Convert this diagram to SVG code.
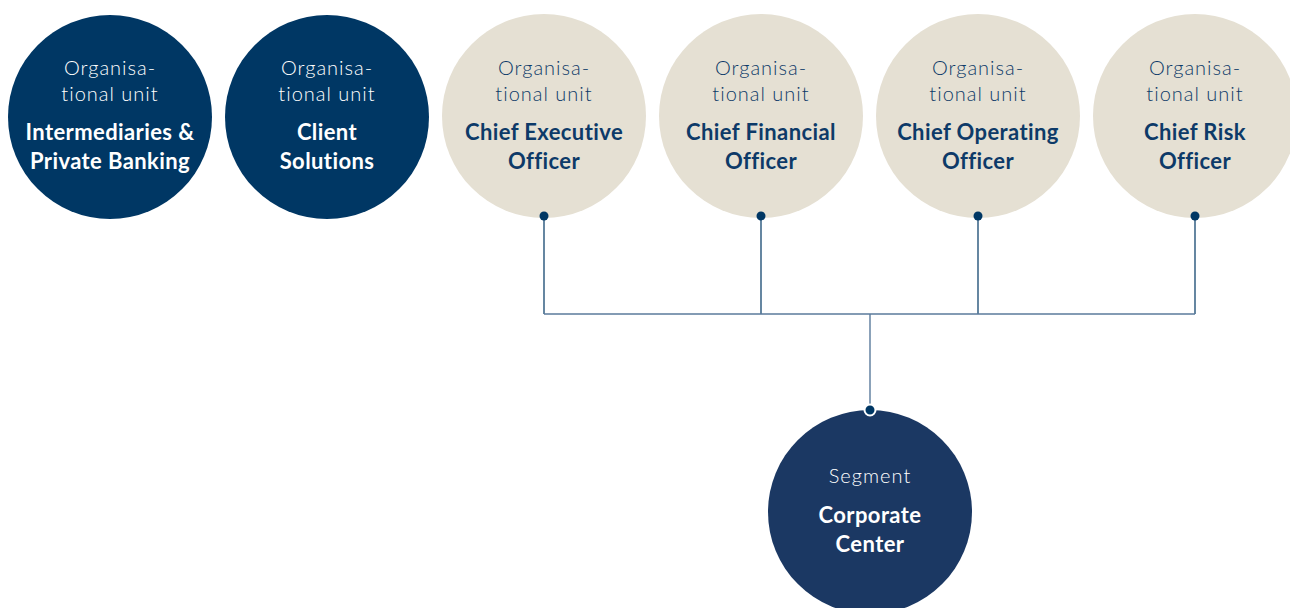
<svg xmlns="http://www.w3.org/2000/svg" width="1290" height="608" viewBox="0 0 1290 608">
<style>
.dark{fill:#003764}
.seg{fill:#1b3863}
.beige{fill:#e5e0d3}
.lt{font-family:Lato,"Open Sans",sans-serif;font-weight:300;font-size:20px;letter-spacing:1px;text-anchor:middle}
.bd{font-family:Lato,"Open Sans",sans-serif;font-weight:700;font-size:22px;letter-spacing:0.4px;text-anchor:middle}
.w{fill:#ffffff}
.b{fill:#0d3a68}
.v{stroke:#003764;stroke-width:1.2;fill:none}
.h{stroke:#5b7b9c;stroke-width:1.4;fill:none}
</style>
<g id="connectors">
<path class="v" d="M544 216V314M761 216V314M978 216V314M1195 216V314"/>
<path class="h" d="M544 314H1195M870 314V410"/>
</g>
<g id="n-ipb">
<ellipse class="dark" cx="110" cy="117" rx="102" ry="102"/>
<text class="lt w" x="110" y="75">Organisa-</text>
<text class="lt w" x="110" y="101">tional unit</text>
<text class="bd w" x="110" y="140">Intermediaries &amp;</text>
<text class="bd w" x="110" y="169">Private Banking</text>
</g>
<g id="n-cs">
<ellipse class="dark" cx="327" cy="117" rx="102" ry="102"/>
<text class="lt w" x="327" y="75">Organisa-</text>
<text class="lt w" x="327" y="101">tional unit</text>
<text class="bd w" x="327" y="140">Client</text>
<text class="bd w" x="327" y="169">Solutions</text>
</g>
<g id="n-ceo">
<ellipse class="beige" cx="544" cy="116" rx="102" ry="102"/>
<text class="lt b" x="544" y="75">Organisa-</text>
<text class="lt b" x="544" y="101">tional unit</text>
<text class="bd b" x="544" y="140">Chief Executive</text>
<text class="bd b" x="544" y="169">Officer</text>
<circle class="dark" cx="544" cy="216" r="4.5"/>
</g>
<g id="n-cfo">
<ellipse class="beige" cx="761" cy="116" rx="102" ry="102"/>
<text class="lt b" x="761" y="75">Organisa-</text>
<text class="lt b" x="761" y="101">tional unit</text>
<text class="bd b" x="761" y="140">Chief Financial</text>
<text class="bd b" x="761" y="169">Officer</text>
<circle class="dark" cx="761" cy="216" r="4.5"/>
</g>
<g id="n-coo">
<ellipse class="beige" cx="978" cy="116" rx="102" ry="102"/>
<text class="lt b" x="978" y="75">Organisa-</text>
<text class="lt b" x="978" y="101">tional unit</text>
<text class="bd b" x="978" y="140">Chief Operating</text>
<text class="bd b" x="978" y="169">Officer</text>
<circle class="dark" cx="978" cy="216" r="4.5"/>
</g>
<g id="n-cro">
<ellipse class="beige" cx="1195" cy="116" rx="102" ry="102"/>
<text class="lt b" x="1195" y="75">Organisa-</text>
<text class="lt b" x="1195" y="101">tional unit</text>
<text class="bd b" x="1195" y="140">Chief Risk</text>
<text class="bd b" x="1195" y="169">Officer</text>
<circle class="dark" cx="1195" cy="216" r="4.5"/>
</g>
<g id="n-cc">
<ellipse class="seg" cx="870" cy="512" rx="102" ry="102"/>
<text class="lt w" x="870" y="483">Segment</text>
<text class="bd w" x="870" y="523">Corporate</text>
<text class="bd w" x="870" y="552">Center</text>
<circle cx="870" cy="410" r="5.5" fill="#003764" stroke="#ffffff" stroke-width="2"/>
</g>
</svg>
